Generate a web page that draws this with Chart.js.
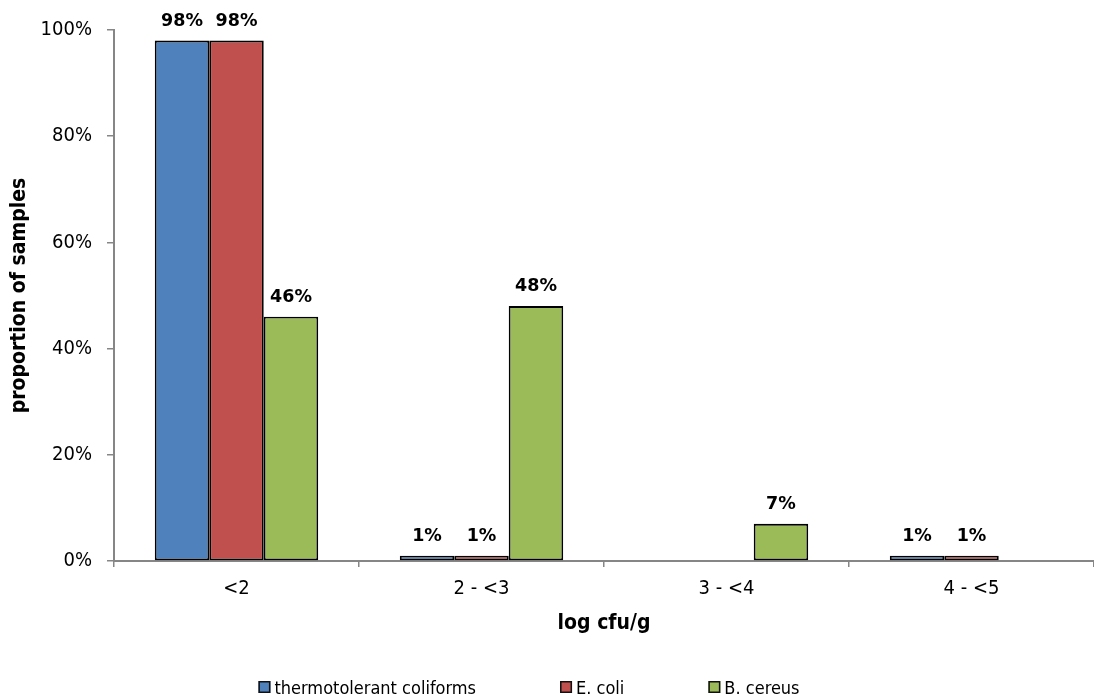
<!DOCTYPE html>
<html>
<head>
<meta charset="utf-8">
<title>Distribution of log cfu/g</title>
<script src="https://cdn.jsdelivr.net/npm/chart.js@4.4.1/dist/chart.umd.min.js"></script>
<style>
  html, body { margin: 0; padding: 0; background: #ffffff; }
  #wrap { width: 1094px; height: 698px; position: relative; }
</style>
</head>
<body>
<div id="wrap"><canvas id="chart" width="1094" height="698"></canvas></div>
<script>
// Count classes (log cfu/g) and the share of samples in each, per organism (%)
const categories = ['<2', '2 - <3', '3 - <4', '4 - <5'];
const seriesNames = ['thermotolerant coliforms', 'E. coli', 'B. cereus'];
const thermotolerantColiforms = [98, 1, 0, 1];
const eColi = [98, 1, 0, 1];
const bCereus = [46, 48, 7, 0];
const yTickValues = [0, 20, 40, 60, 80, 100];

const seriesColors = ['#4F81BD', '#C0504D', '#9BBB59'];
const FONT = "'DejaVu Sans Condensed', 'DejaVu Sans', sans-serif";
const LABEL_FONT = "'DejaVu Sans', sans-serif";
const AXIS_GREY = '#868686';
const TEXT = '#000000';

// Value labels above each non-zero bar
const barValueLabels = {
  id: 'barValueLabels',
  afterDatasetsDraw(chart) {
    const ctx = chart.ctx;
    ctx.save();
    ctx.font = 'bold 17.5px ' + LABEL_FONT;
    ctx.fillStyle = TEXT;
    ctx.textAlign = 'center';
    ctx.textBaseline = 'alphabetic';
    chart.data.datasets.forEach((ds, di) => {
      const meta = chart.getDatasetMeta(di);
      meta.data.forEach((bar, i) => {
        const v = ds.data[i];
        if (!v) return;
        ctx.fillText(v + '%', bar.x, bar.y - 15);
      });
    });
    ctx.restore();
  }
};

// Single-row legend at the foot of the chart
const footLegend = {
  id: 'footLegend',
  afterDraw(chart) {
    const ctx = chart.ctx;
    const box = 12, textGap = 4, itemGap = 84;
    const centerX = 529, baseline = 694;
    ctx.save();
    ctx.font = '18px ' + FONT;
    const widths = chart.data.datasets.map(ds => box + textGap + ctx.measureText(ds.label).width);
    const total = widths.reduce((a, b) => a + b, 0) + itemGap * (widths.length - 1);
    let x = centerX - total / 2;
    chart.data.datasets.forEach((ds, i) => {
      ctx.fillStyle = ds.backgroundColor;
      ctx.fillRect(x, baseline - 13, box, box);
      ctx.strokeStyle = '#111111';
      ctx.lineWidth = 1.5;
      ctx.strokeRect(x + 0.75, baseline - 13 + 0.75, box - 1.5, box - 1.5);
      ctx.fillStyle = TEXT;
      ctx.textAlign = 'left';
      ctx.textBaseline = 'alphabetic';
      ctx.fillText(ds.label, x + box + textGap, baseline);
      x += widths[i] + itemGap;
    });
    ctx.restore();
  }
};

const seriesData = [thermotolerantColiforms, eColi, bCereus];

new Chart(document.getElementById('chart'), {
  type: 'bar',
  data: {
    labels: categories,
    datasets: seriesNames.map((name, i) => ({
      label: name,
      data: seriesData[i],
      backgroundColor: seriesColors[i],
      borderColor: '#000000',
      borderWidth: 1.8,
      borderSkipped: false,
      categoryPercentage: 0.667,
      barPercentage: 1.0
    }))
  },
  options: {
    responsive: false,
    animation: false,
    devicePixelRatio: 1,
    layout: { padding: { top: 30, right: 0, bottom: 0, left: 0 } },
    plugins: {
      legend: { display: false },
      tooltip: { enabled: false },
      title: { display: false }
    },
    scales: {
      x: {
        type: 'category',
        offset: true,
        grid: {
          display: true,
          drawOnChartArea: false,
          drawTicks: true,
          tickLength: 6,
          color: AXIS_GREY,
          lineWidth: 1.5,
          offset: true
        },
        border: { display: true, color: AXIS_GREY, width: 2 },
        ticks: {
          color: TEXT,
          font: { family: FONT, size: 20 },
          padding: 10,
          maxRotation: 0
        },
        title: {
          display: true,
          text: 'log cfu/g',
          color: TEXT,
          font: { family: FONT, size: 21, weight: 'bold' },
          padding: { top: 0, bottom: 62 }
        },
        afterFit(scale) { scale.height = 137; }
      },
      y: {
        min: 0,
        max: 100,
        afterBuildTicks(scale) { scale.ticks = yTickValues.map(v => ({ value: v })); },
        grid: {
          display: true,
          drawOnChartArea: false,
          drawTicks: true,
          tickLength: 7,
          color: AXIS_GREY,
          lineWidth: 1.5
        },
        border: { display: true, color: AXIS_GREY, width: 2 },
        ticks: {
          color: TEXT,
          font: { family: FONT, size: 20 },
          padding: 15,
          callback: v => v + '%'
        },
        title: {
          display: true,
          text: 'proportion of samples',
          color: TEXT,
          font: { family: FONT, size: 21, weight: 'bold' },
          padding: { top: 7, bottom: 0 }
        },
        afterFit(scale) { scale.width = 114; }
      }
    }
  },
  plugins: [barValueLabels, footLegend]
});
</script>
</body>
</html>
